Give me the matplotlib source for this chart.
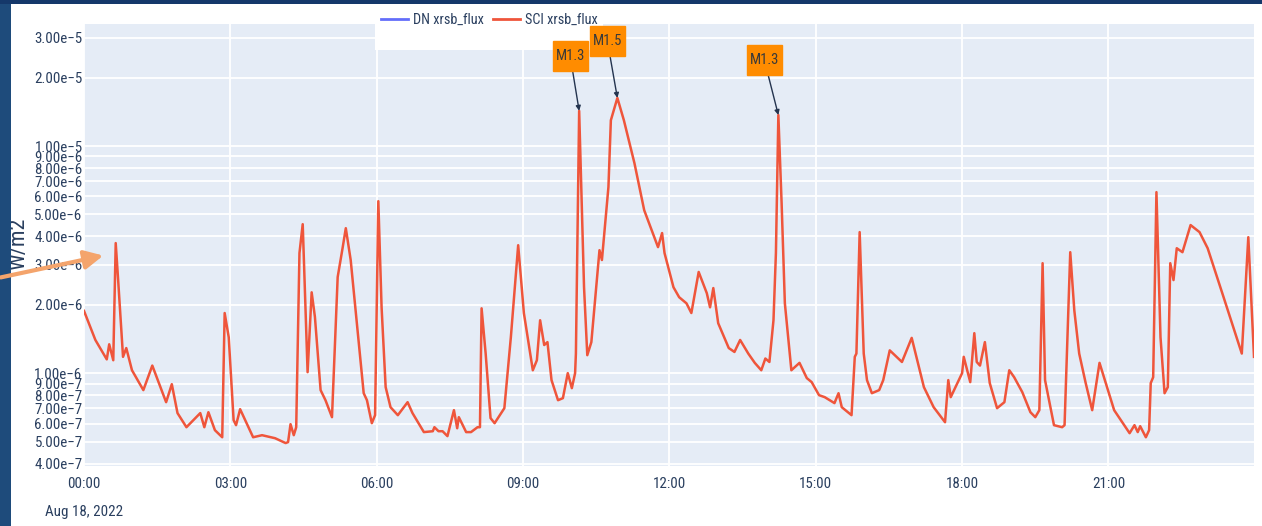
import matplotlib
matplotlib.use('Agg')
import matplotlib.pyplot as plt
import matplotlib.dates as mdates
import matplotlib.font_manager as fm
from matplotlib.patches import Rectangle, FancyArrowPatch
from matplotlib.path import Path
from matplotlib.lines import Line2D
from matplotlib.ticker import NullLocator, FixedLocator, FixedFormatter
import pandas as pd

# ---------------- data ----------------
date = "2022-08-18"
times = ["00:00","00:14","00:28","00:31","00:36","00:39","00:42","00:48","00:52","00:59",
         "01:13","01:24","01:41","01:48","01:55","02:06","02:23","02:28","02:33","02:41",
         "02:50","02:53","02:58","03:04","03:07","03:12","03:28","03:39","03:55","04:08",
         "04:11","04:14","04:18","04:21","04:25","04:29","04:35","04:40","04:44","04:51",
         "04:57","05:05","05:12","05:18","05:22","05:28","05:44","05:48","05:54","05:58",
         "06:02","06:06","06:11","06:17","06:26","06:38","06:44","06:58","07:09","07:11",
         "07:16","07:21","07:27","07:31","07:35","07:39","07:41","07:50","07:56","08:04",
         "08:07","08:09","08:14","08:20","08:25","08:37","08:45","08:54","09:01","09:12",
         "09:17","09:21","09:26","09:30","09:35","09:43","09:49","09:55","10:00","10:04",
         "10:05","10:09","10:15","10:19","10:24","10:34","10:37","10:45","10:48","10:56",
         "11:04","11:17","11:29","11:46","11:51","11:54","12:05","12:12","12:21","12:27",
         "12:36","12:46","12:50","12:54","13:00","13:13","13:20","13:27","13:37","13:45",
         "13:53","13:58","14:03","14:08","14:11","14:14","14:18","14:22","14:30","14:40",
         "14:49","14:55","15:04","15:11","15:23","15:28","15:32","15:44","15:48","15:50",
         "15:54","15:59","16:03","16:09","16:18","16:23","16:31","16:46","16:58","17:13",
         "17:25","17:39","17:43","17:46","18:00","18:02","18:10","18:15","18:18","18:22",
         "18:28","18:34","18:43","18:52","18:58","19:04","19:14","19:24","19:30","19:35",
         "19:39","19:42","19:53","20:03","20:06","20:13","20:18","20:24","20:32","20:40",
         "20:49","21:07","21:17","21:26","21:32","21:36","21:39","21:46","21:50","21:52",
         "21:55","21:59","22:04","22:09","22:13","22:16","22:20","22:24","22:31","22:41",
         "22:52","23:02","23:20","23:44","23:52","23:59"]
sci_flux = [1.88e-6,1.40e-6,1.15e-6,1.34e-6,1.14e-6,3.74e-6,2.57e-6,1.18e-6,1.29e-6,1.03e-6,
            8.42e-7,1.08e-6,7.45e-7,8.94e-7,6.67e-7,5.78e-7,6.67e-7,5.78e-7,6.73e-7,5.61e-7,
            5.22e-7,1.84e-6,1.44e-6,6.21e-7,5.90e-7,6.94e-7,5.22e-7,5.33e-7,5.17e-7,4.92e-7,
            4.97e-7,5.96e-7,5.33e-7,5.78e-7,3.38e-6,4.53e-6,1.01e-6,2.27e-6,1.77e-6,8.42e-7,
            7.60e-7,6.40e-7,2.65e-6,3.55e-6,4.35e-6,3.15e-6,8.16e-7,7.60e-7,6.02e-7,6.53e-7,
            5.72e-6,1.95e-6,8.68e-7,7.08e-7,6.53e-7,7.45e-7,6.67e-7,5.50e-7,5.55e-7,5.78e-7,
            5.55e-7,5.55e-7,5.28e-7,6.02e-7,6.87e-7,5.72e-7,6.40e-7,5.50e-7,5.50e-7,5.78e-7,
            5.78e-7,1.93e-6,1.22e-6,6.34e-7,6.02e-7,7.01e-7,1.44e-6,3.66e-6,1.84e-6,1.03e-6,
            1.14e-6,1.71e-6,1.33e-6,1.37e-6,9.32e-7,7.60e-7,7.76e-7,1.00e-6,8.59e-7,1.00e-6,
            1.22e-6,1.43e-5,2.39e-6,1.20e-6,1.37e-6,3.48e-6,3.15e-6,6.60e-6,1.30e-5,1.63e-5,
            1.30e-5,8.41e-6,5.22e-6,3.59e-6,4.14e-6,3.38e-6,2.39e-6,2.16e-6,2.03e-6,1.84e-6,
            2.79e-6,2.25e-6,1.95e-6,2.37e-6,1.66e-6,1.29e-6,1.24e-6,1.40e-6,1.22e-6,1.11e-6,
            1.03e-6,1.16e-6,1.12e-6,1.71e-6,3.38e-6,1.37e-5,5.61e-6,2.03e-6,1.03e-6,1.11e-6,
            9.51e-7,9.13e-7,8.00e-7,7.84e-7,7.38e-7,8.16e-7,7.08e-7,6.53e-7,1.18e-6,1.22e-6,
            4.18e-6,1.22e-6,9.32e-7,8.16e-7,8.42e-7,9.32e-7,1.26e-6,1.12e-6,1.43e-6,8.68e-7,
            7.08e-7,6.08e-7,9.32e-7,7.84e-7,1.00e-6,1.18e-6,9.13e-7,1.50e-6,1.12e-6,1.08e-6,
            1.37e-6,9.04e-7,7.01e-7,7.45e-7,1.03e-6,9.60e-7,8.25e-7,6.73e-7,6.40e-7,6.87e-7,
            3.05e-6,9.32e-7,5.90e-7,5.78e-7,5.90e-7,3.41e-6,1.89e-6,1.22e-6,9.04e-7,6.87e-7,
            1.11e-6,6.87e-7,6.08e-7,5.44e-7,5.90e-7,5.50e-7,5.84e-7,5.22e-7,5.61e-7,9.04e-7,
            9.60e-7,6.27e-6,1.44e-6,8.16e-7,8.68e-7,3.05e-6,2.57e-6,3.55e-6,3.41e-6,4.49e-6,
            4.18e-6,3.55e-6,2.25e-6,1.22e-6,3.97e-6,1.18e-6]
dn_times = []   # DN trace: no visible data in the chart
dn_flux = []
series_names = ["DN xrsb_flux", "SCI xrsb_flux"]

flare_labels = ["M1.3", "M1.5", "M1.3"]
flare_times = ["10:09", "10:56", "14:14"]

y_ticks = [4e-7, 5e-7, 6e-7, 7e-7, 8e-7, 9e-7, 1e-6, 2e-6, 3e-6, 4e-6, 5e-6,
           6e-6, 7e-6, 8e-6, 9e-6, 1e-5, 2e-5, 3e-5]
x_tick_hours = [0, 3, 6, 9, 12, 15, 18, 21]
date_label = "Aug 18, 2022"
y_label = "W/m2"

# ---------------- font: prefer a narrow sans if one is installed ----------------
entries = fm.fontManager.ttflist
def _regular(f):
    return f.style == 'normal' and f.weight in (400, 'normal', 'regular')
font_name, font_stretch, fs = 'Liberation Sans', 'normal', 9.5
found = False
for nm in ['Liberation Sans Narrow', 'Roboto Condensed', 'Open Sans Condensed',
           'Noto Sans Condensed']:
    if any(f.name == nm and _regular(f) for f in entries):
        font_name, font_stretch, fs, found = nm, 'normal', 10.8, True
        break
if not found:
    for nm in ['Noto Sans', 'Open Sans', 'Roboto', 'DejaVu Sans']:
        hit = [f for f in entries if f.name == nm and _regular(f)
               and str(f.stretch) in ('condensed', 'extra-condensed')]
        if hit:
            font_name, font_stretch, fs = nm, str(hit[0].stretch), 10.8
            break
plt.rcParams['font.family'] = [font_name, 'DejaVu Sans']
plt.rcParams['font.stretch'] = font_stretch

# ---------------- style ----------------
W, H = 1262, 526
TXT = '#2a3f5f'

def fx(px):
    return px / W

def fy(py):
    return 1 - py / H

def sci_fmt(v):
    m, e = f"{v:.2e}".split('e')
    return f"{m}e{int(e)}".replace('-', '\u2212')

def tall_box(x0, y0, width, height, mutation_size):
    padx, pady = 0.2 * mutation_size, 0.55 * mutation_size
    xa, ya = x0 - padx, y0 - pady
    xb, yb = x0 + width + padx, y0 + height + pady
    return Path([(xa, ya), (xb, ya), (xb, yb), (xa, yb), (xa, ya)],
                [Path.MOVETO, Path.LINETO, Path.LINETO, Path.LINETO, Path.CLOSEPOLY])

fig = plt.figure(figsize=(W / 100, H / 100), dpi=100)
fig.patch.set_facecolor('white')
ax = fig.add_axes([fx(84), fy(466), fx(1254) - fx(84), fy(24) - fy(466)])
ax.set_facecolor('#E5ECF6')

t = pd.to_datetime([f"{date} {s}" for s in times])
t_dn = pd.to_datetime([f"{date} {s}" for s in dn_times])
ax.plot(t_dn, dn_flux, color='#636EFA', lw=1.8, zorder=2)
ax.plot(t, sci_flux, color='#EF553B', lw=1.8, zorder=3)

ax.set_yscale('log')
ax.set_ylim(3.9e-7, 3.45e-5)
ax.set_xlim(t[0], t[-1])
ax.yaxis.set_major_locator(FixedLocator(y_ticks))
ax.yaxis.set_major_formatter(FixedFormatter([sci_fmt(v) for v in y_ticks]))
ax.yaxis.set_minor_locator(NullLocator())
ax.xaxis.set_major_locator(mdates.HourLocator(byhour=x_tick_hours))
ax.xaxis.set_major_formatter(mdates.DateFormatter('%H:%M'))
ax.grid(True, color='white', lw=1.3)
ax.set_axisbelow(True)
for s in ax.spines.values():
    s.set_visible(False)
ax.tick_params(axis='both', length=0, labelsize=fs, labelcolor=TXT)
ax.tick_params(axis='y', pad=1)
ax.tick_params(axis='x', pad=8)

ax.annotate(date_label, xy=(0, 0), xycoords='axes fraction', xytext=(0, -46),
            textcoords='offset pixels', ha='center', va='center', fontsize=fs,
            color=TXT, annotation_clip=False)
fig.text(fx(19), fy(244), y_label, rotation=90, ha='center', va='center',
         fontsize=fs + 5, color=TXT)

# legend with white background box (cut at the top of the slide)
handles = [Line2D([], [], color='#636EFA', lw=2), Line2D([], [], color='#EF553B', lw=2)]
leg = ax.legend(handles, series_names, loc='center left',
                bbox_to_anchor=(fx(381), fy(20)), bbox_transform=fig.transFigure,
                ncol=2, frameon=False, handlelength=1.9, handletextpad=0.35,
                columnspacing=0.6, borderaxespad=0, borderpad=0, fontsize=fs - 0.5,
                labelcolor=TXT)
leg.set_zorder(5)
fig.canvas.draw()
lb = leg.get_window_extent()
ax.add_patch(Rectangle((fx(375), fy(50)), (lb.x1 + 5) / W - fx(375), fy(0) - fy(50),
                       transform=fig.transFigure, facecolor='white', edgecolor='none',
                       clip_on=False, zorder=4))

# flare annotations
label_offsets = [(-9, 55), (-10, 57), (-14, 55)]
for lbl, tm, off in zip(flare_labels, flare_times, label_offsets):
    i = times.index(tm)
    ax.annotate(lbl, xy=(t[i], sci_flux[i]), xytext=off, textcoords='offset pixels',
                ha='center', va='center', fontsize=fs - 0.3, color='#3a3a3a',
                bbox=dict(boxstyle=tall_box, fc='#FF8C00', ec='#FF8C00'),
                arrowprops=dict(arrowstyle='-|>', color='#24344f', lw=1.0,
                                mutation_scale=7, shrinkA=0, shrinkB=0),
                zorder=6, annotation_clip=False)

# slide borders
fig.add_artist(Rectangle((0, 0), fx(11), 1, transform=fig.transFigure,
                         facecolor='#1e4b7b', edgecolor='none', zorder=10))
fig.add_artist(Rectangle((0, fy(4)), 1, fy(0) - fy(4), transform=fig.transFigure,
                         facecolor='#15386a', edgecolor='none', zorder=10))
# slide pointer arrow
fig.add_artist(FancyArrowPatch((fx(-2), fy(278)), (fx(106), fy(255)),
                               transform=fig.transFigure, arrowstyle='-|>',
                               mutation_scale=28, lw=3, color='#F4A46C', zorder=11))

fig.savefig('out.png', dpi=100, facecolor=fig.get_facecolor())
